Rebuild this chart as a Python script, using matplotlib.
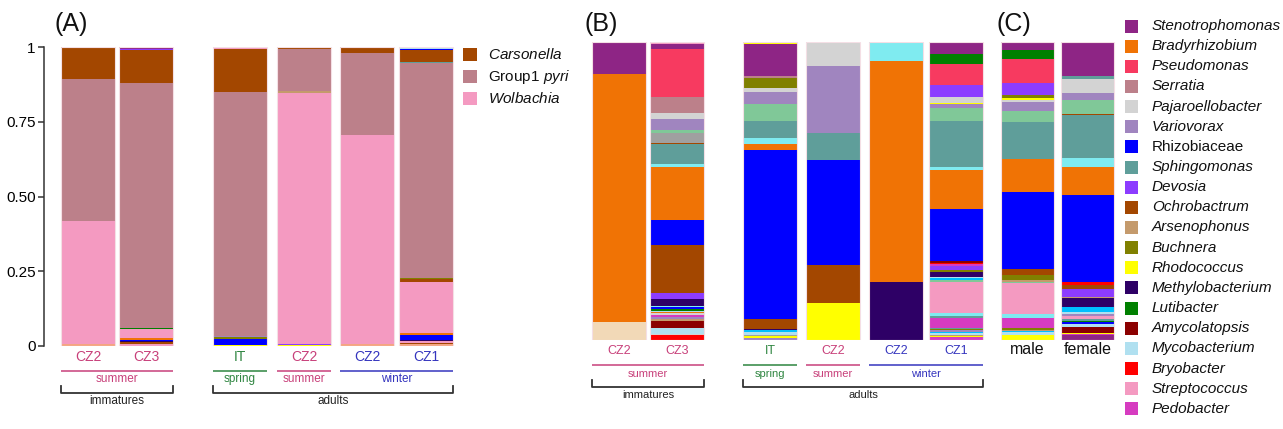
import matplotlib
matplotlib.use("Agg")
import matplotlib.pyplot as plt
from matplotlib.patches import Rectangle
from matplotlib import transforms

plt.rcParams['font.family'] = ['Liberation Sans', 'DejaVu Sans']
plt.rcParams['mathtext.fontset'] = 'custom'
plt.rcParams['mathtext.rm'] = 'Liberation Sans'
plt.rcParams['mathtext.it'] = 'Liberation Sans:italic'

# ---- colours -------------------------------------------------------------
palette = {
    'Carsonella': '#A34700', 'Group1 pyri': '#BC808A', 'Wolbachia': '#F49AC1',
    'Stenotrophomonas': '#8E2585', 'Bradyrhizobium': '#F07305',
    'Pseudomonas': '#F73A60', 'Serratia': '#BC808A',
    'Pajaroellobacter': '#D3D3D3', 'Variovorax': '#A085BF',
    'Rhizobiaceae': '#0000FF', 'Sphingomonas': '#5F9E9A',
    'Devosia': '#8C3CFF', 'Ochrobactrum': '#A34700',
    'Arsenophonus': '#C49A6C', 'Buchnera': '#808000',
    'Rhodococcus': '#FFFF00', 'Methylobacterium': '#2E0066',
    'Lutibacter': '#008000', 'Amycolatopsis': '#8B0000',
    'Mycobacterium': '#B0E0F0', 'Bryobacter': '#FF0000',
    'Streptococcus': '#F49AC1', 'Pedobacter': '#D63BC0',
    # minor taxa not shown in the legend
    'other_mint': '#80C898', 'other_cyan': '#7FEBF0', 'other_gray': '#A0A0A0',
    'other_wheat': '#F2D9B7', 'other_sky': '#00BFFF', 'other_salmon': '#F4A582',
}
season_colors = {'summer': '#C8407A', 'spring': '#2E8540', 'winter': '#3535BE'}

# ---- data: relative abundance, segments from bottom to top --------------
# (A) symbionts
A_imm_CZ2 = [('other_salmon', 0.006), ('Wolbachia', 0.413), ('Group1 pyri', 0.475),
             ('Carsonella', 0.106)]
A_imm_CZ3 = [('Streptococcus', 0.006), ('Ochrobactrum', 0.006), ('Methylobacterium', 0.004),
             ('Rhizobiaceae', 0.003), ('Bradyrhizobium', 0.006), ('Wolbachia', 0.030),
             ('Lutibacter', 0.004), ('Group1 pyri', 0.820), ('Amycolatopsis', 0.003),
             ('Carsonella', 0.108), ('Devosia', 0.004), ('Stenotrophomonas', 0.006)]
A_ad_IT = [('Rhodococcus', 0.003), ('Rhizobiaceae', 0.018), ('Methylobacterium', 0.003),
           ('Buchnera', 0.004), ('Variovorax', 0.003), ('Group1 pyri', 0.819),
           ('Carsonella', 0.144), ('Streptococcus', 0.006)]
A_ad_CZ2_sum = [('Rhodococcus', 0.002), ('Devosia', 0.004), ('Wolbachia', 0.842),
                ('Arsenophonus', 0.004), ('Group1 pyri', 0.141), ('Carsonella', 0.005),
                ('other_salmon', 0.002)]
A_ad_CZ2_win = [('other_salmon', 0.005), ('Wolbachia', 0.701), ('Group1 pyri', 0.274),
                ('Carsonella', 0.020)]
A_ad_CZ1 = [('other_salmon', 0.005), ('Ochrobactrum', 0.003), ('Streptococcus', 0.008),
            ('Methylobacterium', 0.003), ('Rhizobiaceae', 0.017), ('Bradyrhizobium', 0.008),
            ('Wolbachia', 0.171), ('Ochrobactrum', 0.008), ('Buchnera', 0.005),
            ('Serratia', 0.004), ('Group1 pyri', 0.717), ('Sphingomonas', 0.003),
            ('Carsonella', 0.039), ('Rhizobiaceae', 0.004), ('Mycobacterium', 0.005)]

# (B) other bacteria
B_imm_CZ2 = [('other_wheat', 0.061), ('Bradyrhizobium', 0.833), ('Stenotrophomonas', 0.103),
             ('Streptococcus', 0.003)]
B_imm_CZ3 = [('Bryobacter', 0.017), ('Pajaroellobacter', 0.003), ('Mycobacterium', 0.019),
             ('Amycolatopsis', 0.026), ('Arsenophonus', 0.007), ('Variovorax', 0.006),
             ('Pedobacter', 0.006), ('Pajaroellobacter', 0.005), ('Bradyrhizobium', 0.004),
             ('Mycobacterium', 0.004), ('Lutibacter', 0.008), ('Rhizobiaceae', 0.006),
             ('other_cyan', 0.004), ('Methylobacterium', 0.021), ('Devosia', 0.021),
             ('Ochrobactrum', 0.161), ('Rhizobiaceae', 0.084), ('Bradyrhizobium', 0.179),
             ('other_cyan', 0.009), ('Sphingomonas', 0.067), ('Ochrobactrum', 0.004),
             ('other_gray', 0.032), ('other_mint', 0.013), ('Variovorax', 0.035),
             ('Pajaroellobacter', 0.022), ('Serratia', 0.053), ('Pseudomonas', 0.159),
             ('Stenotrophomonas', 0.017), ('Streptococcus', 0.008)]
B_ad_IT = [('Variovorax', 0.006), ('Rhodococcus', 0.006), ('other_gray', 0.004),
           ('Mycobacterium', 0.011), ('other_sky', 0.006), ('Methylobacterium', 0.004),
           ('Ochrobactrum', 0.032), ('Rhizobiaceae', 0.568), ('Bradyrhizobium', 0.022),
           ('other_cyan', 0.020), ('Sphingomonas', 0.056), ('other_mint', 0.056),
           ('Variovorax', 0.041), ('Pajaroellobacter', 0.012), ('Buchnera', 0.036),
           ('Serratia', 0.005), ('Stenotrophomonas', 0.109), ('Rhodococcus', 0.006)]
B_ad_CZ2_sum = [('Rhodococcus', 0.125), ('Ochrobactrum', 0.126), ('Rhizobiaceae', 0.352),
                ('Sphingomonas', 0.092), ('Variovorax', 0.223), ('Pajaroellobacter', 0.082)]
B_ad_CZ2_win = [('Methylobacterium', 0.196), ('Bradyrhizobium', 0.739), ('other_cyan', 0.065)]
B_ad_CZ1 = [('Pedobacter', 0.009), ('Rhodococcus', 0.004), ('Arsenophonus', 0.005),
            ('Mycobacterium', 0.006), ('other_sky', 0.004), ('Variovorax', 0.004),
            ('Buchnera', 0.005), ('Sphingomonas', 0.004), ('Pedobacter', 0.034),
            ('Sphingomonas', 0.004), ('other_cyan', 0.011), ('Streptococcus', 0.104),
            ('other_mint', 0.006), ('other_sky', 0.008), ('Mycobacterium', 0.005),
            ('Methylobacterium', 0.014), ('Buchnera', 0.008), ('Devosia', 0.014),
            ('Pedobacter', 0.005), ('Bryobacter', 0.006), ('Amycolatopsis', 0.004),
            ('Rhizobiaceae', 0.177), ('Bradyrhizobium', 0.129), ('other_cyan', 0.011),
            ('Sphingomonas', 0.154), ('other_mint', 0.045), ('Variovorax', 0.011),
            ('Rhodococcus', 0.004), ('Pajaroellobacter', 0.019), ('Mycobacterium', 0.003),
            ('Devosia', 0.038), ('Pseudomonas', 0.072), ('Lutibacter', 0.032),
            ('Stenotrophomonas', 0.037), ('Rhodococcus', 0.004)]

# (C) sex
C_male = [('Rhodococcus', 0.017), ('Mycobacterium', 0.010), ('other_sky', 0.004),
          ('Arsenophonus', 0.004), ('Buchnera', 0.004), ('Pedobacter', 0.036),
          ('other_cyan', 0.011), ('Streptococcus', 0.104), ('other_mint', 0.005),
          ('Arsenophonus', 0.008), ('Buchnera', 0.015), ('Ochrobactrum', 0.019),
          ('Rhizobiaceae', 0.258), ('Bradyrhizobium', 0.111), ('Sphingomonas', 0.124),
          ('other_mint', 0.038), ('Variovorax', 0.031), ('Pajaroellobacter', 0.007),
          ('Rhodococcus', 0.006), ('Buchnera', 0.011), ('Devosia', 0.040),
          ('Pseudomonas', 0.081), ('Lutibacter', 0.030), ('Stenotrophomonas', 0.026)]
C_female = [('Stenotrophomonas', 0.017), ('Pedobacter', 0.003), ('Rhodococcus', 0.005),
            ('Amycolatopsis', 0.020), ('Mycobacterium', 0.009), ('Rhizobiaceae', 0.007),
            ('Lutibacter', 0.004), ('Sphingomonas', 0.004), ('Streptococcus', 0.011),
            ('Variovorax', 0.008), ('Mycobacterium', 0.005), ('other_sky', 0.019),
            ('Methylobacterium', 0.028), ('Arsenophonus', 0.004), ('Devosia', 0.026),
            ('Ochrobactrum', 0.014), ('Bryobacter', 0.012), ('Rhizobiaceae', 0.292),
            ('Bradyrhizobium', 0.091), ('Devosia', 0.003), ('other_cyan', 0.029),
            ('Sphingomonas', 0.143), ('Ochrobactrum', 0.005), ('other_mint', 0.045),
            ('Variovorax', 0.025), ('Pajaroellobacter', 0.046), ('Sphingomonas', 0.010),
            ('Stenotrophomonas', 0.113), ('Streptococcus', 0.002)]

A_bars = [A_imm_CZ2, A_imm_CZ3, A_ad_IT, A_ad_CZ2_sum, A_ad_CZ2_win, A_ad_CZ1]
B_bars = [B_imm_CZ2, B_imm_CZ3, B_ad_IT, B_ad_CZ2_sum, B_ad_CZ2_win, B_ad_CZ1]
C_bars = [C_male, C_female]

site_labels = ['CZ2', 'CZ3', 'IT', 'CZ2', 'CZ2', 'CZ1']
season_of = ['summer', 'summer', 'spring', 'summer', 'winter', 'winter']
season_groups = [('summer', 0, 1), ('spring', 2, 2), ('summer', 3, 3), ('winter', 4, 5)]
stage_groups = [('immatures', 0, 1), ('adults', 2, 5)]
sex_labels = ['male', 'female']

legend_A = ['Carsonella', 'Group1 pyri', 'Wolbachia']
legend_A_text = ['$\\mathit{Carsonella}$', 'Group1 $\\mathit{pyri}$', '$\\mathit{Wolbachia}$']
legend_C = ['Stenotrophomonas', 'Bradyrhizobium', 'Pseudomonas', 'Serratia',
            'Pajaroellobacter', 'Variovorax', 'Rhizobiaceae', 'Sphingomonas', 'Devosia',
            'Ochrobactrum', 'Arsenophonus', 'Buchnera', 'Rhodococcus', 'Methylobacterium',
            'Lutibacter', 'Amycolatopsis', 'Mycobacterium', 'Bryobacter', 'Streptococcus',
            'Pedobacter']
legend_C_upright = ['Rhizobiaceae']

# ---- layout (pixels) ----------------------------------------------------
W, H = 1283, 429
fig = plt.figure(figsize=(W / 100, H / 100), dpi=100)


def px_axes(x0, x1, ytop, ybot):
    ax = fig.add_axes([x0 / W, 1 - ybot / H, (x1 - x0) / W, (ybot - ytop) / H])
    ax.set_xlim(x0, x1)
    ax.set_ylim(0, 1)
    for s in ax.spines.values():
        s.set_visible(False)
    ax.set_xticks([])
    ax.set_yticks([])
    return ax


def lefts_from(start, steps):
    out, x = [], start
    for st in steps:
        x += st
        out.append(x)
    return out


def draw_stacks(ax, lefts, width, bars):
    for left, segs in zip(lefts, bars):
        bottom = 0.0
        for taxon, v in segs:
            ax.bar(left, v, width, bottom=bottom, align='edge',
                   color=palette[taxon], linewidth=0)
            bottom += v
        ax.bar(left, bottom, width, align='edge', fill=False,
               edgecolor='#f4dfe5', linewidth=0.8)


def draw_groups(ax, lefts, width, y_lab, y_line, y_season, y_br, y_stage,
                fs_lab, fs_small):
    tr = transforms.blended_transform_factory(ax.transData, fig.transFigure)
    fy = lambda y: 1 - y / H
    for i, left in enumerate(lefts):
        ax.text(left + width / 2, fy(y_lab), site_labels[i], transform=tr,
                ha='center', va='center', fontsize=fs_lab,
                color=season_colors[season_of[i]])
    for season, a, b in season_groups:
        x0, x1 = lefts[a], lefts[b] + width
        ax.plot([x0, x1], [fy(y_line)] * 2, transform=tr, color=season_colors[season],
                lw=1.1, clip_on=False, solid_capstyle='butt')
        ax.text((x0 + x1) / 2, fy(y_season), season, transform=tr, ha='center',
                va='center', fontsize=fs_small, color=season_colors[season])
    for stage, a, b in stage_groups:
        x0, x1 = lefts[a], lefts[b] + width
        ax.plot([x0, x0, x1, x1], [fy(y_br - 7), fy(y_br), fy(y_br), fy(y_br - 7)],
                transform=tr, color='#333333', lw=1.3, clip_on=False)
        ax.text((x0 + x1) / 2, fy(y_stage), stage, transform=tr, ha='center',
                va='center', fontsize=fs_small, color='#222222')


def legend_px(names, texts, x_sq, y0, dy, size, x_txt, upright=()):
    for i, (name, txt) in enumerate(zip(names, texts)):
        yc = y0 + i * dy
        fig.add_artist(Rectangle((x_sq / W, 1 - (yc + size / 2) / H), size / W, size / H,
                                 transform=fig.transFigure, color=palette[name], lw=0))
        style = 'normal' if name in upright else 'italic'
        fig.text(x_txt / W, 1 - yc / H, txt, ha='left', va='center', fontsize=11,
                 style=style, color='#111111')


# (A)
axA = px_axes(44, 458, 47.3, 345.7)
A_lefts = lefts_from(61, [0, 58, 94, 64, 63, 59])
draw_stacks(axA, A_lefts, 54, A_bars)
axA.spines['left'].set_visible(True)
axA.spines['left'].set_color('#333333')
axA.spines['left'].set_linewidth(1.1)
axA.set_yticks([0, 0.25, 0.5, 0.75, 1])
axA.set_yticklabels(['0', '0.25', '0.50', '0.75', '1'])
axA.tick_params(axis='y', length=4, width=1.1, color='#333333', labelsize=11, pad=2)
draw_groups(axA, A_lefts, 54, 357, 370.7, 379, 392.7, 400.5, 10, 8.5)
legend_px(legend_A, legend_A_text, 463, 54.5, 22, 13.5, 488, upright=legend_A)

# (B)
axB = px_axes(588, 986, 42, 340)
B_lefts = lefts_from(592, [0, 58, 93, 63, 63, 60])
draw_stacks(axB, B_lefts, 54, B_bars)
draw_groups(axB, B_lefts, 54, 351, 365, 374, 387, 395, 9, 8)

# (C)
axC = px_axes(998, 1117, 42, 340)
C_lefts = lefts_from(1001, [0, 60])
draw_stacks(axC, C_lefts, 53, C_bars)
trC = transforms.blended_transform_factory(axC.transData, fig.transFigure)
for left, lab in zip(C_lefts, sex_labels):
    axC.text(left + 26.5, 1 - 350 / H, lab, transform=trC, ha='center', va='center',
             fontsize=11.5, color='#111111')
legend_px(legend_C, legend_C, 1125, 26, 20.15, 13, 1152, upright=legend_C_upright)

for lab, x in [('(A)', 54), ('(B)', 584), ('(C)', 996)]:
    fig.text(x / W, 1 - 24 / H, lab, ha='left', va='center', fontsize=18, color='#111111')

fig.savefig('out.png', dpi=100)
